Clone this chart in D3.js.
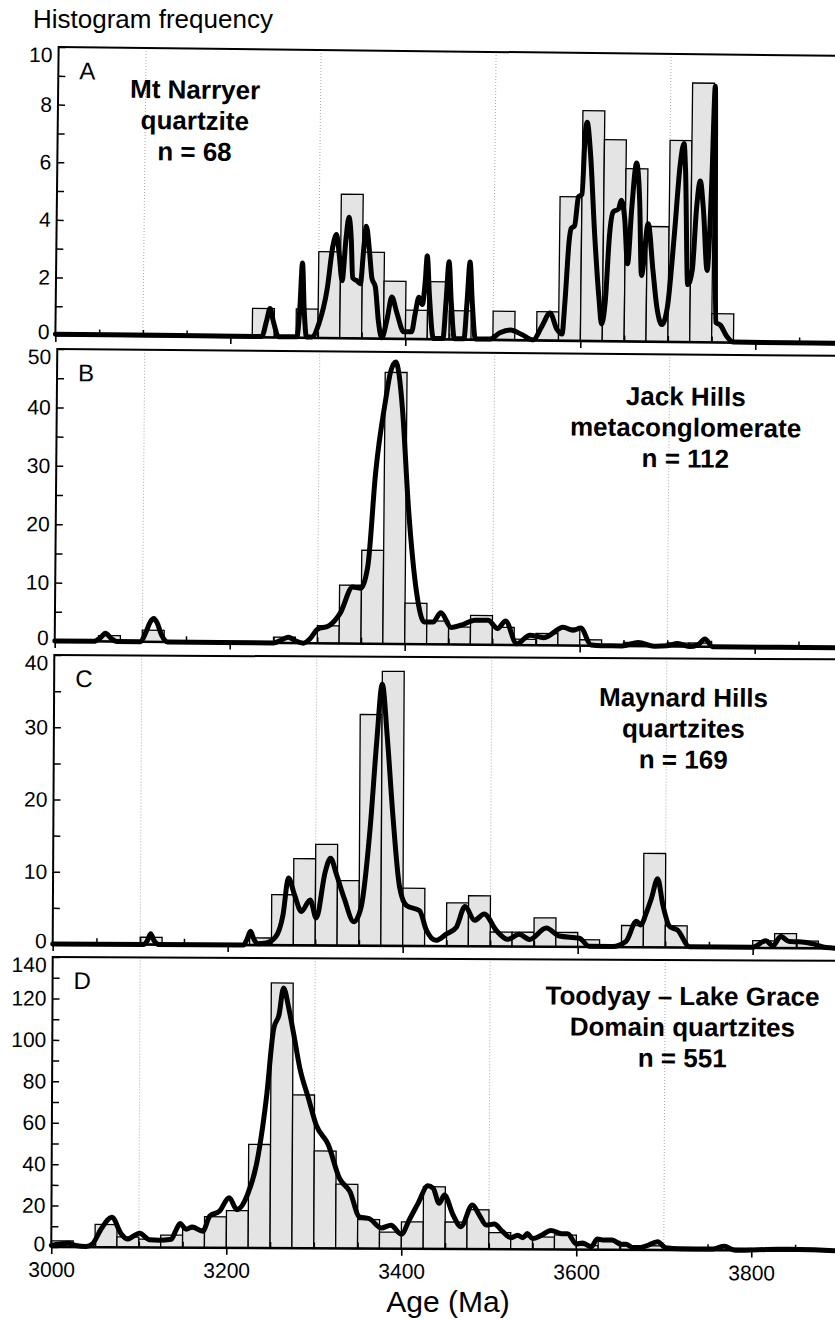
<!DOCTYPE html>
<html>
<head>
<meta charset="utf-8">
<script src="https://cdn.jsdelivr.net/npm/d3@7"></script>
<style>
  body { margin: 0; background: #fff; }
  svg { display: block; overflow: hidden; font-family: "Liberation Sans", Arial, sans-serif; }
</style>
</head>
<body>
<svg id="chart" width="835" height="1320"></svg>
<script>
// Histogram bins are 25 Ma wide, keyed by their lower edge.
const binWidth = 25;

// Panel A - Mt Narryer quartzite
const binsA = [3225, 3275, 3300, 3325, 3350, 3375, 3400, 3425, 3450, 3500, 3550, 3575, 3600, 3625, 3650, 3675, 3700, 3725, 3750];
const countsA = [1, 1, 3, 5, 3, 2, 1, 2, 1, 1, 1, 5, 8, 7, 6, 4, 7, 9, 1];
const pdpAgesA = [3000, 3236, 3241, 3245, 3249, 3255, 3276, 3279, 3281.5, 3284, 3287, 3293, 3301, 3310, 3316, 3320, 3323, 3327, 3331, 3334, 3337, 3339, 3344, 3348, 3351, 3354, 3358, 3361, 3365, 3369, 3373, 3379, 3384, 3390, 3398, 3407, 3411, 3415, 3419, 3422, 3424, 3427, 3432, 3443, 3446, 3449, 3452, 3456, 3467, 3470, 3473, 3476, 3480, 3497, 3508, 3520, 3533, 3546, 3556, 3565, 3573, 3579, 3582, 3586, 3588, 3592, 3596, 3600, 3603, 3605, 3609, 3615, 3621, 3624, 3628, 3632, 3636, 3642, 3645, 3649, 3653, 3657, 3662, 3666, 3669, 3676, 3682, 3687, 3693, 3699, 3706, 3712, 3716, 3718, 3722, 3727, 3731, 3735, 3739, 3744, 3748, 3751, 3753, 3754.5, 3760, 3767, 3775, 3900];
const pdpA = [0.03, 0.03, 0.55, 1.0, 0.55, 0.03, 0.03, 1.0, 2.6, 1.0, 0.03, 0.03, 0.5, 1.7, 3.2, 3.6, 3.0, 2.0, 3.5, 4.2, 3.4, 2.1, 2.0, 1.9, 3.0, 3.9, 3.0, 2.1, 1.8, 0.6, 0.03, 0.7, 1.45, 0.9, 0.25, 0.25, 0.9, 1.45, 1.2, 2.0, 2.9, 1.5, 0.03, 0.03, 1.3, 2.7, 1.3, 0.03, 0.03, 1.3, 2.7, 1.3, 0.03, 0.03, 0.25, 0.35, 0.2, 0.02, 0.5, 0.96, 0.4, 0.23, 1.4, 3.5, 3.9, 4.0, 5.0, 5.1, 7.2, 7.6, 6.6, 3.7, 1.4, 0.6, 1.4, 3.7, 4.5, 4.6, 4.9, 4.3, 2.7, 4.6, 6.2, 4.9, 2.3, 4.1, 2.5, 1.2, 0.6, 1.2, 3.7, 6.2, 6.9, 6.0, 2.0, 2.5, 4.6, 5.6, 4.6, 2.5, 5.4, 8.9, 3.7, 0.7, 0.6, 0.23, 0.02, 0.02];

// Panel B - Jack Hills metaconglomerate
const binsB = [3050, 3100, 3250, 3300, 3325, 3350, 3375, 3400, 3425, 3450, 3475, 3500, 3525, 3550, 3575, 3600, 3650, 3700, 3725];
const countsB = [1, 2, 1, 3, 10, 16, 46.5, 7, 4, 3, 5, 3, 1, 2, 3, 1, 0.6, 0.6, 0.6];
const pdpAgesB = [3000, 3045, 3052, 3058, 3064, 3071, 3098, 3104, 3109, 3113, 3117, 3122, 3129, 3250, 3259, 3267, 3275, 3284, 3292, 3300, 3313, 3326, 3340, 3349, 3357, 3365, 3376, 3381, 3387, 3391, 3395, 3403, 3413, 3422, 3432, 3441, 3453, 3464, 3480, 3495, 3506, 3515, 3528, 3543, 3559, 3581, 3592, 3601, 3613, 3625, 3648, 3667, 3685, 3700, 3712, 3725, 3735, 3743, 3752, 3900];
const pdpB = [0, 0, 0.6, 1.4, 0.6, 0, 0, 1.6, 3.4, 4.0, 3.2, 1.2, 0, 0, 0.5, 1.0, 0.4, 0, 0.8, 2.4, 3.0, 5.2, 9.7, 9.5, 13.2, 29.2, 42, 46.5, 48.3, 46, 40.4, 23.2, 8.9, 3.8, 3.8, 5.4, 2.9, 3.3, 4.2, 4.2, 2.8, 4.1, 0.2, 1.7, 1.3, 3.1, 2.6, 3.0, 0.1, 0, 0, 0.6, 0, 0.1, 0.5, 0, 0.3, 1.3, 0, 0];

// Panel C - Maynard Hills quartzites
const binsC = [3100, 3225, 3250, 3275, 3300, 3325, 3350, 3375, 3400, 3450, 3475, 3500, 3525, 3550, 3575, 3600, 3650, 3675, 3700, 3800, 3825, 3850];
const countsC = [1, 1, 7, 12, 14, 9, 32, 38, 8, 6, 7, 2, 2, 4, 2, 1, 3, 13, 3, 1, 2, 1];
const pdpAgesC = [3000, 3104, 3108, 3112, 3116, 3121, 3218, 3222, 3226, 3230, 3234, 3244, 3255, 3263, 3269, 3276, 3284, 3294, 3301, 3311, 3317, 3324, 3333, 3344, 3352, 3362, 3369, 3375, 3381, 3388, 3396, 3404, 3419, 3427, 3438, 3450, 3461, 3471, 3482, 3493, 3507, 3520, 3533, 3545, 3564, 3579, 3602, 3613, 3640, 3655, 3667, 3672, 3678, 3684, 3691, 3697, 3705, 3714, 3728, 3800, 3815, 3823, 3832, 3842, 3853, 3869, 3884, 3900];
const pdpC = [0, 0, 0.5, 1.5, 0.5, 0, 0, 0.8, 1.9, 0.8, 0.2, 0.3, 1.2, 4.2, 9.3, 7.0, 4.7, 6.3, 3.8, 10.2, 12.1, 9.8, 6.5, 3.3, 5.2, 16.2, 28.2, 36.2, 29, 18, 8.2, 5.6, 4.9, 2.2, 0.8, 1.7, 2.6, 5.5, 3.6, 4.5, 2.2, 1.0, 1.7, 1.0, 2.6, 1.5, 1.2, 0.1, 0.1, 0.8, 3.6, 3.1, 4.7, 6.8, 9.5, 5.9, 2.9, 2.4, 0.1, 0.1, 1.0, 0.3, 1.6, 0.9, 0.9, 0.6, 0.1, 0];

// Panel D - Toodyay - Lake Grace Domain quartzites
const binsD = [3000, 3050, 3075, 3100, 3125, 3150, 3175, 3200, 3225, 3250, 3275, 3300, 3325, 3350, 3375, 3400, 3425, 3450, 3475, 3500, 3525, 3550, 3575, 3600, 3625, 3650, 3675, 3700, 3775];
const countsD = [3, 11, 5, 4, 6, 9, 15, 18, 50, 128, 74, 47, 31, 14, 8, 13, 30, 13, 19, 8, 6, 6, 7, 2, 4, 2, 2, 1, 1];
const pdpAgesD = [3000, 3010, 3019, 3028, 3040, 3047, 3057, 3069, 3080, 3087, 3094, 3101, 3112, 3123, 3137, 3142, 3147, 3154, 3161, 3173, 3181, 3192, 3203, 3212, 3224, 3234, 3245, 3253, 3259, 3264, 3270, 3276, 3283, 3293, 3302, 3316, 3329, 3341, 3352, 3363, 3377, 3388, 3400, 3409, 3419, 3430, 3436, 3443, 3449, 3459, 3468, 3481, 3489, 3497, 3506, 3516, 3525, 3533, 3539, 3544, 3550, 3560, 3571, 3583, 3590, 3600, 3607, 3617, 3624, 3630, 3641, 3651, 3657, 3666, 3680, 3693, 3702, 3718, 3756, 3769, 3782, 3832, 3855, 3900];
const pdpD = [0.8, 1.5, 1.9, 0.8, 0.3, 1.6, 8.9, 14.5, 6.4, 4, 5.5, 6.8, 3.7, 3.5, 4, 8, 11.6, 8.9, 10, 8, 15.3, 17.7, 24.2, 18.5, 25.8, 40.3, 72.5, 106, 112.7, 125.6, 116, 103, 87, 72.5, 59.6, 50, 33.8, 27.4, 15.3, 14.5, 10, 11.3, 7, 14, 22, 30.4, 29.3, 22, 26, 16.4, 10.8, 21.3, 16.4, 11.6, 12.1, 8.4, 5.6, 6.8, 5.6, 7.6, 5.2, 6.8, 9.2, 7.6, 7.6, 2.7, 3.2, 1.4, 5.2, 4.7, 4.7, 2.7, 2.7, 0.6, 1.9, 4, 1.1, 0.6, 0.6, 1.9, 0, 0.6, 0.6, 0];

// Tick values
const xMajor = [3000, 3200, 3400, 3600, 3800];
const xMinor = [3050, 3100, 3150, 3250, 3300, 3350, 3450, 3500, 3550, 3650, 3700, 3750, 3850, 3900];
const xGrid = [3100, 3300, 3500, 3700, 3900];
const yMajorA = [0, 2, 4, 6, 8, 10], yMinorA = [1, 3, 5, 7, 9];
const yMajorB = [0, 10, 20, 30, 40, 50], yMinorB = [5, 15, 25, 35, 45];
const yMajorC = [0, 10, 20, 30, 40], yMinorC = [5, 15, 25, 35];
const yMajorD = [0, 20, 40, 60, 80, 100, 120, 140], yMinorD = [10, 30, 50, 70, 90, 110, 130];

// Panel texts
const titleA = ["Mt Narryer", "quartzite", "n = 68"];
const titleB = ["Jack Hills", "metaconglomerate", "n = 112"];
const titleC = ["Maynard Hills", "quartzites", "n = 169"];
const titleD = ["Toodyay \u2013 Lake Grace", "Domain quartzites", "n = 551"];

// Layout of the four stacked panels (the scan is slightly tilted, so each has a small angle).
const panels = [
  { label: "A", bins: binsA, counts: countsA, ages: pdpAgesA, pdp: pdpA, yMax: 10, yMajor: yMajorA, yMinor: yMinorA,
    title: titleA, x0: 57, top: 47, bottom: 335, angle: 0.65, titleX: 194, titleY: 50 },
  { label: "B", bins: binsB, counts: countsB, ages: pdpAgesB, pdp: pdpB, yMax: 50, yMajor: yMajorB, yMinor: yMinorB,
    title: titleB, x0: 56, top: 349, bottom: 641, angle: 0.5, titleX: 685, titleY: 51 },
  { label: "C", bins: binsC, counts: countsC, ages: pdpAgesC, pdp: pdpC, yMax: 40, yMajor: yMajorC, yMinor: yMinorC,
    title: titleC, x0: 53.5, top: 655, bottom: 944, angle: 0.32, titleX: 683, titleY: 48 },
  { label: "D", bins: binsD, counts: countsD, ages: pdpAgesD, pdp: pdpD, yMax: 140, yMajor: yMajorD, yMinor: yMinorD,
    title: titleD, x0: 52, top: 957, bottom: 1247, angle: 0.28, titleX: 682, titleY: 45 }
];

const svg = d3.select("#chart");
const pxPerMa = 0.875;
const font = "Liberation Sans, Arial, sans-serif";

svg.append("text")
  .attr("x", 33).attr("y", 28)
  .attr("font-size", 26)
  .text("Histogram frequency");

panels.forEach(function(p, i) {
  const x = d3.scaleLinear().domain([3000, 3900]).range([p.x0, p.x0 + 900 * pxPerMa]);
  const y = d3.scaleLinear().domain([0, p.yMax]).range([p.bottom, p.top]);
  const cy = (p.top + p.bottom) / 2;

  const g = svg.append("g")
    .attr("transform", "rotate(" + p.angle + "," + p.x0 + "," + cy + ")");

  // Dotted vertical gridlines
  g.selectAll(".grid")
    .data(xGrid)
    .enter()
    .append("line")
    .attr("x1", d => x(d)).attr("x2", d => x(d))
    .attr("y1", p.top).attr("y2", p.bottom)
    .attr("stroke", "#a8a8a8")
    .attr("stroke-width", 1)
    .attr("stroke-dasharray", "1,2");

  // Histogram bars
  g.selectAll(".bar")
    .data(p.bins.map((b, j) => ({ start: b, count: p.counts[j] })))
    .enter()
    .append("rect")
    .attr("x", d => x(d.start))
    .attr("width", d => x(d.start + binWidth) - x(d.start))
    .attr("y", d => y(d.count))
    .attr("height", d => y(0) - y(d.count))
    .attr("fill", "#e4e4e4")
    .attr("stroke", "#000")
    .attr("stroke-width", 1.3);

  // Probability density curve
  const line = d3.line()
    .x(d => x(d[0]))
    .y(d => y(d[1]))
    .curve(d3.curveMonotoneX);
  g.append("path")
    .datum(p.ages.map((a, j) => [a, p.pdp[j]]))
    .attr("d", line)
    .attr("fill", "none")
    .attr("stroke", "#000")
    .attr("stroke-width", 5)
    .attr("stroke-linejoin", "round")
    .attr("stroke-linecap", "round");

  // Y axis: labelled ticks and minor ticks, both pointing inward
  const yAxis = g.append("g").attr("transform", "translate(" + p.x0 + ",0)")
    .call(d3.axisLeft(y).tickValues(p.yMajor).tickSizeInner(-7).tickSizeOuter(0).tickPadding(6).tickFormat(d3.format("d")));
  yAxis.select(".domain").remove();
  yAxis.selectAll("text")
    .attr("font-size", 21).attr("font-family", font).attr("fill", "#000")
    .attr("transform", d => d === p.yMax ? "translate(0,8)" : d === 0 ? "translate(0,-3)" : null);
  yAxis.selectAll("line").attr("stroke-width", 1.5);
  const yMinorAxis = g.append("g").attr("transform", "translate(" + p.x0 + ",0)")
    .call(d3.axisLeft(y).tickValues(p.yMinor).tickSize(-7).tickFormat(""));
  yMinorAxis.select(".domain").remove();
  yMinorAxis.selectAll("line").attr("stroke-width", 1.5);

  // X axis: minor ticks up, major ticks down
  const xMinorAxis = g.append("g").attr("transform", "translate(0," + p.bottom + ")")
    .call(d3.axisBottom(x).tickValues(xMinor).tickSize(-6).tickFormat(""));
  xMinorAxis.select(".domain").remove();
  xMinorAxis.selectAll("line").attr("stroke-width", 1.5);
  const isLast = i === panels.length - 1;
  const xMajorAxis = g.append("g").attr("transform", "translate(0," + p.bottom + ")")
    .call(d3.axisBottom(x).tickValues(xMajor).tickSize(7).tickPadding(8)
      .tickFormat(isLast ? d3.format("d") : ""));
  xMajorAxis.select(".domain").remove();
  xMajorAxis.selectAll("line").attr("stroke-width", 1.6);
  xMajorAxis.selectAll("text").attr("font-size", 21).attr("font-family", font).attr("fill", "#000");

  // Frame: top border, left axis, bottom axis
  g.append("line")
    .attr("x1", p.x0).attr("x2", x(3900)).attr("y1", p.top).attr("y2", p.top)
    .attr("stroke", "#000").attr("stroke-width", 2);
  g.append("line")
    .attr("x1", p.x0).attr("x2", p.x0).attr("y1", p.top - 1).attr("y2", p.bottom)
    .attr("stroke", "#000").attr("stroke-width", 2);
  g.append("line")
    .attr("x1", p.x0).attr("x2", x(3900)).attr("y1", p.bottom).attr("y2", p.bottom)
    .attr("stroke", "#000").attr("stroke-width", 2.6);

  // Panel letter
  g.append("text")
    .attr("x", p.x0 + 21).attr("y", p.top + 32)
    .attr("font-size", 24)
    .text(p.label);

  // Sample title
  g.append("g")
    .selectAll("text")
    .data(p.title)
    .enter()
    .append("text")
    .attr("x", p.titleX)
    .attr("y", (d, j) => p.top + p.titleY + j * 31)
    .attr("text-anchor", "middle")
    .attr("font-size", 26)
    .attr("font-weight", "bold")
    .text(d => d);
});

svg.append("text")
  .attr("x", 448).attr("y", 1312)
  .attr("text-anchor", "middle")
  .attr("font-size", 30)
  .text("Age (Ma)");
</script>
</body>
</html>
